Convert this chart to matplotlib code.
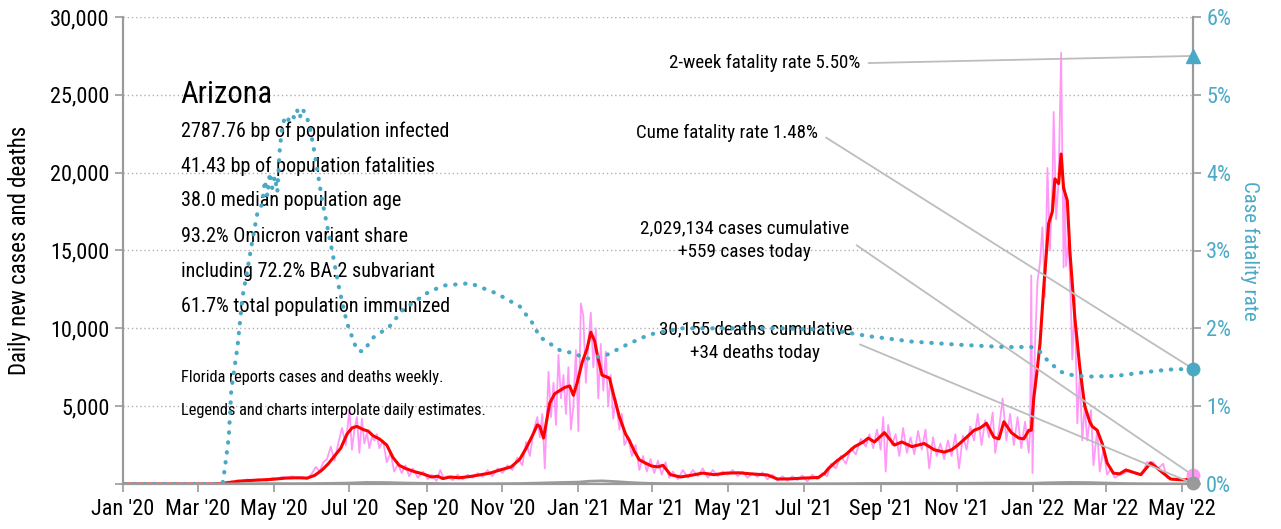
import matplotlib
matplotlib.use("Agg")
import matplotlib.pyplot as plt
import matplotlib.dates as mdates
from matplotlib.ticker import FuncFormatter
import pandas as pd

# --- data (date, value) ---
cases_avg = [
    ("2020-01-02", 0), ("2020-03-10", 0), ("2020-03-20", 20), ("2020-03-28", 120),
    ("2020-04-06", 200), ("2020-04-18", 250), ("2020-04-30", 300), ("2020-05-11", 380),
    ("2020-05-20", 400), ("2020-05-28", 380), ("2020-06-03", 550), ("2020-06-09", 900),
    ("2020-06-14", 1300), ("2020-06-19", 1800), ("2020-06-24", 2300), ("2020-06-29", 3200),
    ("2020-07-03", 3600), ("2020-07-07", 3700), ("2020-07-12", 3500), ("2020-07-16", 3400),
    ("2020-07-20", 3100), ("2020-07-25", 2900), ("2020-07-31", 2500), ("2020-08-05", 1700),
    ("2020-08-10", 1200), ("2020-08-15", 1000), ("2020-08-22", 800), ("2020-08-29", 650),
    ("2020-09-05", 450), ("2020-09-10", 500), ("2020-09-14", 350), ("2020-09-20", 450),
    ("2020-09-27", 400), ("2020-10-06", 480), ("2020-10-15", 600), ("2020-10-22", 700),
    ("2020-10-30", 900), ("2020-11-08", 1100), ("2020-11-15", 1600), ("2020-11-20", 2300),
    ("2020-11-25", 3100), ("2020-11-29", 3800), ("2020-12-01", 3700), ("2020-12-04", 2950),
    ("2020-12-09", 5200), ("2020-12-13", 5800), ("2020-12-17", 6000), ("2020-12-21", 6200),
    ("2020-12-25", 6300), ("2020-12-28", 5700), ("2020-12-31", 6500), ("2021-01-04", 7800),
    ("2021-01-08", 8700), ("2021-01-11", 9750), ("2021-01-14", 9200), ("2021-01-17", 8000),
    ("2021-01-20", 7000), ("2021-01-23", 6900), ("2021-01-26", 6800), ("2021-01-30", 5500),
    ("2021-02-03", 4300), ("2021-02-08", 3200), ("2021-02-11", 2800), ("2021-02-15", 2100),
    ("2021-02-19", 1550), ("2021-02-25", 1300), ("2021-03-01", 1150), ("2021-03-06", 1100),
    ("2021-03-10", 1200), ("2021-03-16", 600), ("2021-03-24", 450), ("2021-04-01", 550),
    ("2021-04-11", 700), ("2021-04-20", 600), ("2021-04-30", 700), ("2021-05-10", 720),
    ("2021-05-20", 650), ("2021-06-02", 580), ("2021-06-10", 320), ("2021-06-20", 330),
    ("2021-07-01", 380), ("2021-07-13", 420), ("2021-07-18", 700), ("2021-07-21", 1000),
    ("2021-07-28", 1500), ("2021-08-04", 1900), ("2021-08-11", 2400), ("2021-08-18", 2700),
    ("2021-08-22", 2950), ("2021-08-27", 2700), ("2021-09-04", 3300), ("2021-09-08", 2900),
    ("2021-09-12", 2500), ("2021-09-18", 2700), ("2021-09-26", 2400), ("2021-10-01", 2500),
    ("2021-10-06", 2600), ("2021-10-14", 2200), ("2021-10-22", 2050), ("2021-10-28", 2200),
    ("2021-11-02", 2500), ("2021-11-09", 3000), ("2021-11-15", 3450), ("2021-11-20", 3600),
    ("2021-11-25", 3900), ("2021-12-01", 3000), ("2021-12-05", 2900), ("2021-12-09", 4000),
    ("2021-12-15", 3300), ("2021-12-21", 2950), ("2021-12-25", 2900), ("2021-12-29", 3450),
    ("2021-12-31", 3450), ("2022-01-02", 5500), ("2022-01-05", 7500), ("2022-01-07", 9000),
    ("2022-01-10", 12600), ("2022-01-14", 16750), ("2022-01-17", 17500), ("2022-01-19", 19600),
    ("2022-01-22", 19300), ("2022-01-24", 21200), ("2022-01-26", 19000), ("2022-01-29", 18200),
    ("2022-01-31", 15000), ("2022-02-04", 10700), ("2022-02-08", 7500), ("2022-02-12", 5000),
    ("2022-02-16", 4000), ("2022-02-18", 3700), ("2022-02-22", 3450), ("2022-02-26", 2600),
    ("2022-03-02", 1350), ("2022-03-07", 700), ("2022-03-12", 650), ("2022-03-17", 900),
    ("2022-03-23", 750), ("2022-03-29", 600), ("2022-04-06", 1350), ("2022-04-10", 1100),
    ("2022-04-16", 700), ("2022-04-22", 320), ("2022-04-28", 280), ("2022-05-04", 260),
    ("2022-05-10", 500),
]

cases_daily = [
    ("2020-01-02", 0), ("2020-03-20", 0), ("2020-03-25", 150), ("2020-03-29", 100),
    ("2020-04-02", 250), ("2020-04-06", 200), ("2020-04-10", 300), ("2020-04-14", 200),
    ("2020-04-18", 300), ("2020-04-22", 250), ("2020-04-26", 200), ("2020-04-30", 400),
    ("2020-05-04", 350), ("2020-05-08", 450), ("2020-05-12", 400), ("2020-05-16", 500),
    ("2020-05-20", 350), ("2020-05-24", 450), ("2020-05-28", 300), ("2020-06-01", 700),
    ("2020-06-04", 1100), ("2020-06-07", 800), ("2020-06-10", 1400), ("2020-06-13", 1600),
    ("2020-06-16", 2400), ("2020-06-19", 1500), ("2020-06-22", 2600), ("2020-06-25", 3600),
    ("2020-06-28", 2500), ("2020-07-01", 4800), ("2020-07-03", 2200), ("2020-07-05", 3500),
    ("2020-07-07", 4300), ("2020-07-09", 2000), ("2020-07-11", 4200), ("2020-07-13", 2600),
    ("2020-07-15", 3300), ("2020-07-17", 2300), ("2020-07-19", 3000), ("2020-07-21", 2800),
    ("2020-07-23", 3200), ("2020-07-25", 2300), ("2020-07-28", 2800), ("2020-07-31", 1400),
    ("2020-08-03", 2000), ("2020-08-06", 800), ("2020-08-09", 1300), ("2020-08-12", 700),
    ("2020-08-15", 1200), ("2020-08-18", 500), ("2020-08-21", 1000), ("2020-08-25", 400),
    ("2020-08-29", 800), ("2020-09-02", 300), ("2020-09-05", 600), ("2020-09-09", 200),
    ("2020-09-12", 900), ("2020-09-15", 300), ("2020-09-18", 500), ("2020-09-22", 250),
    ("2020-09-26", 600), ("2020-09-30", 300), ("2020-10-04", 600), ("2020-10-08", 400),
    ("2020-10-12", 700), ("2020-10-16", 450), ("2020-10-20", 900), ("2020-10-24", 500),
    ("2020-10-28", 1000), ("2020-11-01", 700), ("2020-11-05", 1200), ("2020-11-09", 900),
    ("2020-11-13", 1700), ("2020-11-17", 1200), ("2020-11-20", 2700), ("2020-11-23", 1800),
    ("2020-11-26", 3400), ("2020-11-29", 4300), ("2020-12-01", 3000), ("2020-12-03", 4500),
    ("2020-12-05", 1000), ("2020-12-08", 7200), ("2020-12-10", 4300), ("2020-12-12", 6500),
    ("2020-12-14", 3800), ("2020-12-16", 8300), ("2020-12-18", 5500), ("2020-12-20", 7000),
    ("2020-12-22", 4500), ("2020-12-24", 7500), ("2020-12-26", 3500), ("2020-12-28", 5000),
    ("2020-12-30", 8600), ("2021-01-01", 3400), ("2021-01-03", 11600), ("2021-01-05", 10800),
    ("2021-01-07", 6500), ("2021-01-09", 9000), ("2021-01-11", 11000), ("2021-01-13", 7500),
    ("2021-01-15", 10000), ("2021-01-17", 5500), ("2021-01-19", 9000), ("2021-01-21", 6000),
    ("2021-01-23", 8500), ("2021-01-25", 5000), ("2021-01-27", 7000), ("2021-01-29", 4200),
    ("2021-01-31", 5500), ("2021-02-03", 3500), ("2021-02-05", 4500), ("2021-02-07", 2500),
    ("2021-02-10", 3000), ("2021-02-13", 1800), ("2021-02-16", 2500), ("2021-02-19", 900),
    ("2021-02-22", 1800), ("2021-02-25", 800), ("2021-02-28", 1600), ("2021-03-03", 700),
    ("2021-03-06", 1500), ("2021-03-09", 600), ("2021-03-12", 1400), ("2021-03-15", 400),
    ("2021-03-18", 800), ("2021-03-22", 300), ("2021-03-26", 900), ("2021-03-30", 400),
    ("2021-04-03", 900), ("2021-04-07", 500), ("2021-04-11", 1000), ("2021-04-15", 400),
    ("2021-04-19", 900), ("2021-04-23", 500), ("2021-04-27", 800), ("2021-05-01", 600),
    ("2021-05-05", 900), ("2021-05-09", 500), ("2021-05-13", 800), ("2021-05-17", 400),
    ("2021-05-21", 700), ("2021-05-25", 450), ("2021-05-29", 750), ("2021-06-02", 300),
    ("2021-06-06", 600), ("2021-06-10", 200), ("2021-06-14", 500), ("2021-06-18", 200),
    ("2021-06-22", 500), ("2021-06-26", 250), ("2021-06-30", 550), ("2021-07-04", 150),
    ("2021-07-08", 600), ("2021-07-12", 300), ("2021-07-16", 700), ("2021-07-20", 500),
    ("2021-07-23", 1300), ("2021-07-27", 1000), ("2021-07-31", 1800), ("2021-08-04", 1300),
    ("2021-08-08", 2300), ("2021-08-12", 1900), ("2021-08-16", 2900), ("2021-08-20", 2400),
    ("2021-08-23", 3200), ("2021-08-26", 2300), ("2021-08-29", 3500), ("2021-09-01", 2200),
    ("2021-09-03", 4300), ("2021-09-05", 800), ("2021-09-07", 3800), ("2021-09-10", 2500),
    ("2021-09-13", 3200), ("2021-09-16", 1800), ("2021-09-19", 3600), ("2021-09-22", 2000),
    ("2021-09-25", 3000), ("2021-09-28", 1900), ("2021-10-01", 3400), ("2021-10-04", 2200),
    ("2021-10-07", 3500), ("2021-10-10", 1000), ("2021-10-13", 3000), ("2021-10-16", 1800),
    ("2021-10-19", 2600), ("2021-10-22", 1600), ("2021-10-25", 2800), ("2021-10-28", 1800),
    ("2021-10-31", 3200), ("2021-11-03", 1000), ("2021-11-06", 3100), ("2021-11-09", 2200),
    ("2021-11-12", 3700), ("2021-11-15", 2800), ("2021-11-18", 4500), ("2021-11-21", 2500),
    ("2021-11-24", 4100), ("2021-11-27", 3000), ("2021-11-30", 4600), ("2021-12-02", 2000),
    ("2021-12-05", 3500), ("2021-12-08", 5500), ("2021-12-11", 2800), ("2021-12-14", 4500),
    ("2021-12-17", 2500), ("2021-12-20", 4300), ("2021-12-23", 2300), ("2021-12-26", 4000),
    ("2021-12-29", 2000), ("2021-12-30", 3300), ("2021-12-31", 13400), ("2022-01-01", 700),
    ("2022-01-03", 9000), ("2022-01-05", 13000), ("2022-01-07", 14200), ("2022-01-09", 16500),
    ("2022-01-11", 12000), ("2022-01-13", 20300), ("2022-01-15", 15000), ("2022-01-17", 19000),
    ("2022-01-18", 23900), ("2022-01-20", 17000), ("2022-01-22", 19500), ("2022-01-24", 27700),
    ("2022-01-25", 21000), ("2022-01-26", 13900), ("2022-01-27", 19000), ("2022-01-28", 14000),
    ("2022-01-30", 15700), ("2022-02-01", 11000), ("2022-02-02", 8000), ("2022-02-04", 12000),
    ("2022-02-06", 3900), ("2022-02-08", 7000), ("2022-02-10", 2800), ("2022-02-12", 5000),
    ("2022-02-14", 2800), ("2022-02-17", 4750), ("2022-02-19", 1200), ("2022-02-22", 3500),
    ("2022-02-24", 800), ("2022-02-27", 2200), ("2022-03-02", 600), ("2022-03-05", 1000),
    ("2022-03-08", 400), ("2022-03-12", 600), ("2022-03-16", 700), ("2022-03-20", 900),
    ("2022-03-25", 650), ("2022-03-30", 600), ("2022-04-03", 1400), ("2022-04-08", 1400),
    ("2022-04-12", 1000), ("2022-04-16", 1300), ("2022-04-19", 400), ("2022-04-23", 300),
    ("2022-04-28", 300), ("2022-05-03", 250), ("2022-05-07", 300), ("2022-05-10", 559),
]

deaths_daily = [
    ("2020-01-02", 0), ("2020-03-20", 0), ("2020-04-01", 10), ("2020-04-15", 20),
    ("2020-05-01", 25), ("2020-05-15", 20), ("2020-06-01", 25), ("2020-06-15", 40),
    ("2020-07-01", 60), ("2020-07-15", 100), ("2020-08-01", 90), ("2020-08-15", 60),
    ("2020-09-01", 40), ("2020-09-15", 20), ("2020-10-01", 15), ("2020-10-15", 15),
    ("2020-11-01", 20), ("2020-11-15", 30), ("2020-12-01", 60), ("2020-12-15", 90),
    ("2021-01-01", 120), ("2021-01-10", 180), ("2021-01-20", 200), ("2021-02-01", 150),
    ("2021-02-10", 100), ("2021-02-20", 60), ("2021-03-01", 40), ("2021-03-15", 25),
    ("2021-04-01", 15), ("2021-05-01", 12), ("2021-06-01", 10), ("2021-07-01", 10),
    ("2021-08-01", 20), ("2021-09-01", 40), ("2021-10-01", 45), ("2021-11-01", 40),
    ("2021-12-01", 60), ("2021-12-15", 55), ("2022-01-01", 50), ("2022-01-15", 80),
    ("2022-02-01", 100), ("2022-02-15", 90), ("2022-03-01", 60), ("2022-03-15", 30),
    ("2022-04-01", 15), ("2022-04-15", 10), ("2022-05-01", 5), ("2022-05-10", 34),
]

cfr = [
    ("2020-01-02", 0), ("2020-03-21", 0), ("2020-03-23", 0.22), ("2020-03-26", 0.6),
    ("2020-03-28", 1.2), ("2020-04-02", 1.76), ("2020-04-06", 2.4), ("2020-04-10", 2.75),
    ("2020-04-14", 3.13), ("2020-04-18", 3.48), ("2020-04-22", 3.6), ("2020-04-24", 3.9),
    ("2020-04-26", 3.7), ("2020-04-28", 4.0), ("2020-04-30", 3.8), ("2020-05-02", 3.95),
    ("2020-05-04", 3.75), ("2020-05-06", 4.3), ("2020-05-08", 4.6), ("2020-05-10", 4.7),
    ("2020-05-12", 4.65), ("2020-05-15", 4.75), ("2020-05-18", 4.7), ("2020-05-20", 4.8),
    ("2020-05-22", 4.7), ("2020-05-24", 4.82), ("2020-05-27", 4.75), ("2020-05-30", 4.6),
    ("2020-06-03", 4.25), ("2020-06-09", 3.65), ("2020-06-17", 3.0), ("2020-06-23", 2.49),
    ("2020-06-29", 2.07), ("2020-07-07", 1.72), ("2020-07-12", 1.70), ("2020-07-20", 1.88),
    ("2020-08-02", 2.02), ("2020-08-13", 2.24), ("2020-09-03", 2.47), ("2020-09-15", 2.55),
    ("2020-10-06", 2.58), ("2020-10-27", 2.45), ("2020-11-15", 2.28), ("2020-11-25", 2.07),
    ("2020-12-01", 1.89), ("2020-12-17", 1.72), ("2020-12-28", 1.68), ("2021-01-08", 1.61),
    ("2021-01-24", 1.66), ("2021-02-09", 1.79), ("2021-02-27", 1.92), ("2021-03-24", 2.0),
    ("2021-05-01", 2.0), ("2021-06-13", 2.0), ("2021-07-23", 1.98), ("2021-08-22", 1.90),
    ("2021-09-26", 1.83), ("2021-11-02", 1.79), ("2021-12-09", 1.76), ("2021-12-31", 1.76),
    ("2022-01-07", 1.70), ("2022-01-14", 1.57), ("2022-01-24", 1.44), ("2022-02-04", 1.39),
    ("2022-02-15", 1.38), ("2022-03-10", 1.39), ("2022-03-29", 1.43), ("2022-04-20", 1.47),
    ("2022-05-10", 1.48),
]

two_week_cfr = 5.50
state = "Arizona"
stats_lines = [
    "2787.76 bp of population infected",
    "41.43 bp of population fatalities",
    "38.0 median population age",
    "93.2% Omicron variant share",
    "including 72.2% BA.2 subvariant",
    "61.7% total population immunized",
]
notes = ["Florida reports cases and deaths weekly.",
         "Legends and charts interpolate daily estimates."]
cases_label = "2,029,134 cases cumulative\n+559 cases today"
deaths_label = "30,155 deaths cumulative\n+34 deaths today"

TEAL = "#4aaac6"
PINK = "#ff99f8"
RED = "#ff0000"
GRAY = "#9a9a9a"
LEADER = "#bdbdbd"

plt.rcParams["font.family"] = ["Roboto Condensed", "DejaVu Sans"]


def to_frame(pairs):
    d = pd.DataFrame(pairs, columns=["date", "v"])
    d["date"] = pd.to_datetime(d["date"])
    return d


avg = to_frame(cases_avg)
daily = to_frame(cases_daily)
deaths = to_frame(deaths_daily)
rate = to_frame(cfr)

fig = plt.figure(figsize=(12.81, 5.29), dpi=100)
ax = fig.add_axes([123 / 1281, 1 - 484 / 529, 1070 / 1281, 467 / 529])
ax2 = ax.twinx()

ax.plot(daily["date"], daily["v"], color=PINK, lw=1.3, zorder=2)
ax.plot(avg["date"], avg["v"], color=RED, lw=2.2, zorder=3)
ax.plot(deaths["date"], deaths["v"], color=GRAY, lw=2, zorder=3)
ax2.plot(rate["date"], rate["v"], color=TEAL, lw=3,
         linestyle=(0, (0.1, 2.3)), dash_capstyle="round")

last = avg["date"].iloc[-1]
ax.plot([last], [daily["v"].iloc[-1]], "o", ms=9, color=PINK, clip_on=False, zorder=5)
ax.plot([last], [deaths["v"].iloc[-1]], "o", ms=9, color=GRAY, clip_on=False, zorder=5)
ax2.plot([last], [rate["v"].iloc[-1]], "o", ms=9, color=TEAL, clip_on=False, zorder=5)
ax2.plot([last], [two_week_cfr], "^", ms=10, color=TEAL, clip_on=False, zorder=5)

ax.set_xlim(pd.Timestamp("2020-01-01"), last)
ax.set_ylim(0, 30000)
ax2.set_ylim(0, 6)

ax.xaxis.set_major_locator(mdates.MonthLocator(bymonth=[1, 3, 5, 7, 9, 11]))
ax.xaxis.set_major_formatter(mdates.DateFormatter("%b '%y"))
ax.set_yticks(range(0, 30001, 5000))
ax.yaxis.set_major_formatter(FuncFormatter(lambda v, p: "" if v == 0 else f"{int(v):,}"))
ax2.set_yticks(range(0, 7))
ax2.yaxis.set_major_formatter(FuncFormatter(lambda v, p: f"{int(v)}%"))

ax.yaxis.grid(True, linestyle=(0, (1, 2)), color="#b0b0b0", lw=1)
ax.set_axisbelow(True)

for a in (ax, ax2):
    a.spines["top"].set_visible(False)
    for s in ("left", "right", "bottom"):
        a.spines[s].set_color(GRAY)
        a.spines[s].set_linewidth(1.5)
ax.tick_params(axis="both", colors=GRAY, labelcolor="black", labelsize=16, length=6, width=1.2)
ax.tick_params(axis="x", pad=5)
ax2.tick_params(axis="y", colors=GRAY, labelcolor=TEAL, labelsize=16, length=6, width=1.2)

ax.set_ylabel("Daily new cases and deaths", fontsize=16.5, labelpad=14)
ax2.set_ylabel("Case fatality rate", fontsize=15, color=TEAL, rotation=270, labelpad=20)

# text block on the left
ax.text(0.054, 0.816, state, transform=ax.transAxes, fontsize=22, va="baseline")
for i, line in enumerate(stats_lines):
    ax.text(0.054, 0.756 - i * 0.075, line, transform=ax.transAxes, fontsize=14.5, va="center")
for i, line in enumerate(notes):
    ax.text(0.054, 0.227 - i * 0.069, line, transform=ax.transAxes, fontsize=11.8, va="center")

# annotations with leader lines
lp = dict(arrowstyle="-", color=LEADER, lw=1.3, shrinkA=4, shrinkB=0)
ax2.annotate(f"2-week fatality rate {two_week_cfr:.2f}%", xy=(last, two_week_cfr),
             xytext=(0.689, 0.901), textcoords="axes fraction", ha="right", va="center",
             fontsize=13.6, arrowprops=dict(lp, relpos=(1, 0.5)))
ax2.annotate(f"Cume fatality rate {rate['v'].iloc[-1]:.2f}%", xy=(last, rate["v"].iloc[-1]),
             xytext=(0.650, 0.752), textcoords="axes fraction", ha="right", va="center",
             fontsize=13.6, arrowprops=dict(lp, relpos=(1, 0.5)))
ax.annotate(cases_label, xy=(last, daily["v"].iloc[-1]),
            xytext=(0.581, 0.522), textcoords="axes fraction", ha="center", va="center",
            fontsize=13.8, linespacing=1.45, arrowprops=dict(lp, relpos=(1, 0.5)))
ax.annotate(deaths_label, xy=(last, deaths["v"].iloc[-1]),
            xytext=(0.591, 0.306), textcoords="axes fraction", ha="center", va="center",
            fontsize=13.8, linespacing=1.45, arrowprops=dict(lp, relpos=(1, 0.5)))

fig.savefig("out.png", dpi=100)
